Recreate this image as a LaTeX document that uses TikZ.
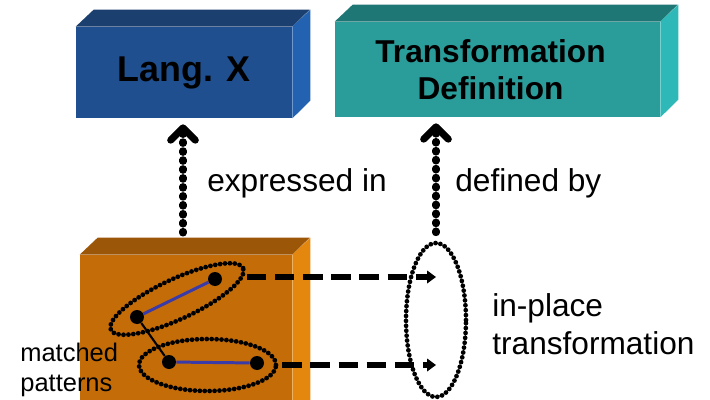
\documentclass[tikz,border=0pt]{standalone}
\usepackage{fontspec}
\setmainfont{Liberation Sans}
\usetikzlibrary{arrows.meta,shapes.geometric}
\definecolor{langfront}{HTML}{1F4F8F}
\definecolor{langtop}{HTML}{1B3F6E}
\definecolor{langside}{HTML}{2262B0}
\definecolor{defnfront}{HTML}{2A9C9A}
\definecolor{defntop}{HTML}{1E7675}
\definecolor{defnside}{HTML}{2EB8B8}
\definecolor{modelfront}{HTML}{C46C08}
\definecolor{modeltop}{HTML}{9C5608}
\definecolor{modelside}{HTML}{E3870E}
\definecolor{edgeblue}{HTML}{3A3AA8}
\begin{document}
\begin{tikzpicture}[x=0.02cm,y=-0.02cm,
  face/.style={inner sep=0pt,align=center,font=\fontsize{18}{21}\selectfont\bfseries},
  dotarrow/.style={line width=4pt,dash pattern=on 0.9pt off 4.2pt,line cap=round,
    -{Straight Barb[length=7pt,width=14pt,round]}},
  dasharrow/.style={line width=2.9pt,dash pattern=on 11pt off 5pt,-{Triangle[length=5pt,width=7pt]}},
  dotring/.style={ellipse,draw,inner sep=0pt,line width=2.7pt,dash pattern=on 0pt off 2.8pt,line cap=round},
  pt/.style={circle,fill=black,inner sep=0pt,minimum size=0.28cm},
  lbl/.style={font=\fontsize{18}{21.5}\selectfont,align=left,inner sep=0pt}]
  \useasboundingbox (0,0) rectangle (710,399);
  % meta level boxes
  \node[face,fill=langfront,minimum width=4.32cm,minimum height=1.82cm] (lang) at (184,72.5) {\fontsize{20.4}{24}\selectfont Lang. X};
  \fill[langtop] (lang.north west) -- ++(18,-17) -- ++(216,0) -- (lang.north east) -- cycle;
  \fill[langside] (lang.north east) -- ++(18,-17) -- ++(0,91) -- (lang.south east) -- cycle;
  \node[face,fill=defnfront,minimum width=6.5cm,minimum height=1.9cm] (defn) at (497.5,69.5) {\hspace*{-0.28cm}Transformation\\\hspace*{-0.28cm}Definition};
  \fill[defntop] (defn.north west) -- ++(18,-17) -- ++(325,0) -- (defn.north east) -- cycle;
  \fill[defnside] (defn.north east) -- ++(18,-17) -- ++(0,95) -- (defn.south east) -- cycle;
  % model box
  \node[face,fill=modelfront,minimum width=4.24cm,minimum height=3.3cm] (model) at (186,337.5) {};
  \fill[modeltop] (model.north west) -- ++(18,-17) -- ++(212,0) -- (model.north east) -- cycle;
  \fill[modelside] (model.north east) -- ++(18,-17) -- ++(0,165) -- (model.south east) -- cycle;
  % matched patterns
  \node[pt] (p1) at (215,279) {};
  \node[pt] (p2) at (137,317) {};
  \node[pt] (p3) at (169,362) {};
  \node[pt] (p4) at (257,363) {};
  \draw[edgeblue,line width=1.7pt] (p2) -- (p1);
  \draw[edgeblue,line width=1.7pt] (p3) -- (p4);
  \draw[line width=1.2pt] (p2) -- (p3);
  \node[dotring,minimum width=2.92cm,minimum height=0.8cm,rotate=25] (m1) at (177,299) {};
  \node[dotring,minimum width=2.74cm,minimum height=1.04cm] (m2) at (207.5,365) {};
  \node[dotring,minimum width=1.2cm,minimum height=3.08cm] (inplace) at (436,320) {};
  % links
  \coordinate (d1) at (247,277);
  \draw[dasharrow] (d1) -- (inplace.center |- d1);
  \draw[dasharrow] ([xshift=0.08cm]m2.east) -- (inplace.center |- m2.east);
  \coordinate (u1) at (183,233);
  \draw[dotarrow] (u1) -- ([yshift=-0.12cm]lang.south -| u1);
  \draw[dotarrow] ([yshift=0.16cm]inplace.north) -- ([yshift=-0.12cm]defn.south -| inplace.north);
  % labels
  \node[lbl,anchor=west] (expr) at (207,183) {expressed in};
  \node[lbl,anchor=west] (defby) at (455,183) {defined by};
  \node[lbl,anchor=west] (ipt) at (492,324) {in-place\\transformation};
  \node[lbl,anchor=west,font=\fontsize{14.5}{17}\selectfont] (mp) at (20,370) {matched\\patterns};
\end{tikzpicture}
\end{document}
